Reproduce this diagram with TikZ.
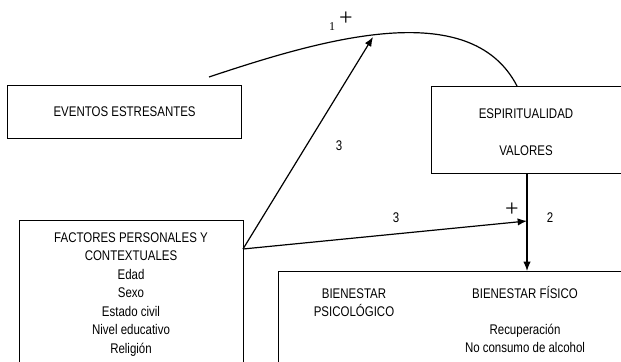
\documentclass[tikz,border=0pt]{standalone}
\usepackage{fontspec}
\setmainfont{Liberation Sans}[FakeStretch=0.82]
\newfontfamily\plusfont{Liberation Serif}
\usetikzlibrary{arrows.meta}
\begin{document}
\begin{tikzpicture}[x=0.75pt,y=-0.75pt,
  box/.style={draw, line width=0.9pt, rectangle, anchor=north west, inner sep=0pt,
    font=\fontsize{10.5}{13.9}\selectfont},
  lbl/.style={font=\fontsize{10.5}{13.9}\selectfont, inner sep=0pt, anchor=base},
  sign/.style={font=\plusfont\fontsize{18}{18}\selectfont, inner sep=0pt},
  one/.style={font=\plusfont\fontsize{9}{9}\selectfont, inner sep=0pt},
  conn/.style={line width=0.9pt},
  arr/.style={conn, -{Latex[length=7pt,width=5.5pt]}}]
\useasboundingbox (0,0) rectangle (621,361);

% boxes
\node[box, minimum width=175.5pt, minimum height=39.75pt] (ev) at (7,85) {EVENTOS ESTRESANTES};
\node[box, minimum width=144pt, minimum height=65.25pt] (espi) at (431,86) {};
\node[box, minimum width=168pt, minimum height=108.75pt] (fact) at (19,220) {};
\node[box, minimum width=258.75pt, minimum height=70.5pt] (bien) at (278,271) {};

% texts in ESPIRITUALIDAD box
\node[lbl] (espt) at (526,118) {ESPIRITUALIDAD};
\node[lbl] (valt) at (526,155) {VALORES};

% texts in FACTORES box
\node[lbl] (f1) at (131,242) {FACTORES PERSONALES Y};
\node[lbl] (f2) at (131,260.5) {CONTEXTUALES};
\node[lbl] (f3) at (131,279) {Edad};
\node[lbl] (f4) at (131,297.5) {Sexo};
\node[lbl] (f5) at (131,316) {Estado civil};
\node[lbl] (f6) at (131,334.5) {Nivel educativo};
\node[lbl] (f7) at (131,353) {Religión};

% texts in BIENESTAR box
\node[lbl] (b1) at (354,298) {BIENESTAR};
\node[lbl] (b2) at (354,316) {PSICOLÓGICO};
\node[lbl] (b3) at (525,298) {BIENESTAR FÍSICO};
\node[lbl] (b4) at (525,334) {Recuperación};
\node[lbl] (b5) at (525,352) {No consumo de alcohol};

% connectors
\coordinate (cs) at (209,77);
\coordinate (ce) at (517,86);
\draw[conn] (cs) .. controls (320,40) and (470,-5) .. (ce);

\coordinate (fo) at (243,249);
\coordinate (t1) at (373,37);
\coordinate (t2) at (527,221);
\draw[arr] (fo) -- (t1);
\draw[arr] (fo) -- (t2);
\draw[arr] (t2 |- espi.south) -- (t2 |- bien.north);

% labels
\node[one] (l1) at (332,27) {1};
\node[sign] (p1) at (346,19) {+};
\node[lbl] (l3a) at (339,150) {3};
\node[lbl] (l3b) at (396,222) {3};
\node[sign] (p2) at (512,210) {+};
\node[lbl] (l2) at (550,222) {2};
\end{tikzpicture}
\end{document}
